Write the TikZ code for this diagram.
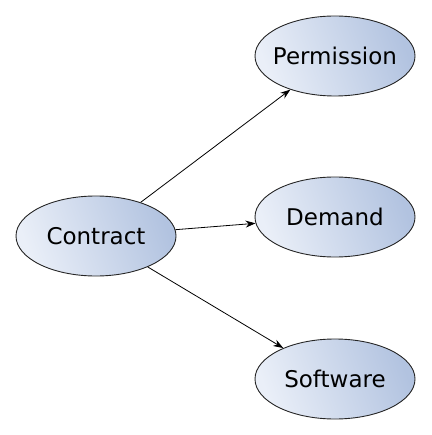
\documentclass[tikz,border=0pt]{standalone}
\usepackage{fontspec}
\setmainfont{DejaVu Sans}
\usetikzlibrary{arrows.meta,shapes.geometric}
\definecolor{elight}{HTML}{EAEFF8}
\definecolor{edark}{HTML}{B2C3E0}

\begin{document}
\begin{tikzpicture}[
  x=1pt, y=-1pt,
  enode/.style={draw=black!85,ellipse,line width=0.9pt,minimum width=160pt,minimum height=80pt,
    inner xsep=-20pt,inner ysep=0pt,
    left color=elight,right color=edark,shading angle=110,
    font=\fontsize{23}{27}\selectfont},
  arr/.style={-{Stealth[length=10pt,width=7pt]},line width=0.8pt}
]
  \useasboundingbox (0,0) rectangle (431,435);

  % concepts
  \node[enode] (contract) at (96,236) {Contract};
  \node[enode] (perm) at (335,56) {Permission};
  \node[enode] (demand) at (335,217) {Demand};
  \node[enode] (soft) at (335,379) {Software};

  % relations
  \draw[arr] (contract) -- (perm);
  \draw[arr] (contract) -- (demand);
  \draw[arr] (contract) -- (soft);

\end{tikzpicture}
\end{document}
